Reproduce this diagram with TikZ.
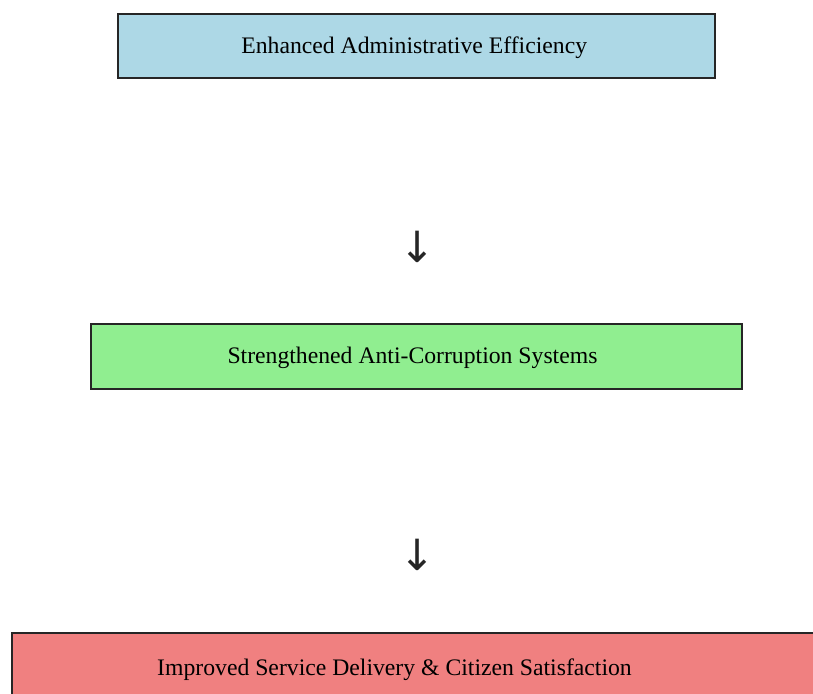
\documentclass[tikz,border=0pt]{standalone}
\usepackage{fontspec}
\setmainfont{Liberation Serif}
\newfontfamily\arrowfont{DejaVu Sans}
\definecolor{boxblue}{HTML}{ADD8E6}
\definecolor{boxgreen}{HTML}{90EE90}
\definecolor{boxred}{HTML}{F08080}
\definecolor{edge}{HTML}{262626}
\begin{document}
\begin{tikzpicture}[x=1pt,y=-1pt,
  box/.style={draw=edge,line width=2.6pt},
  lbl/.style={font=\fontsize{23.7}{28}\selectfont,inner sep=0pt,anchor=base},
  arr/.style={font=\arrowfont\fontsize{43}{47}\selectfont,inner sep=0pt,text=black!85}]
\useasboundingbox (0,0) rectangle (813,693);
\clip (0,0) rectangle (813,693);
\fill[white] (0,0) rectangle (813,693);
\draw[box,fill=boxblue] (118,14) rectangle (715,78);
\node[lbl] (t1) at (414.2,53.3) {Enhanced Administrative Efficiency};
\node[arr] (a1) at (418,247) {↓};
\draw[box,fill=boxgreen] (91,324) rectangle (742,389);
\node[lbl] (t2) at (412.5,363.3) {Strengthened Anti-Corruption Systems};
\node[arr] (a2) at (418,555) {↓};
\draw[box,fill=boxred] (12,633) rectangle (840,730);
\node[lbl] (t3) at (394.5,675.7) {Improved Service Delivery \& Citizen Satisfaction};
\end{tikzpicture}
\end{document}
